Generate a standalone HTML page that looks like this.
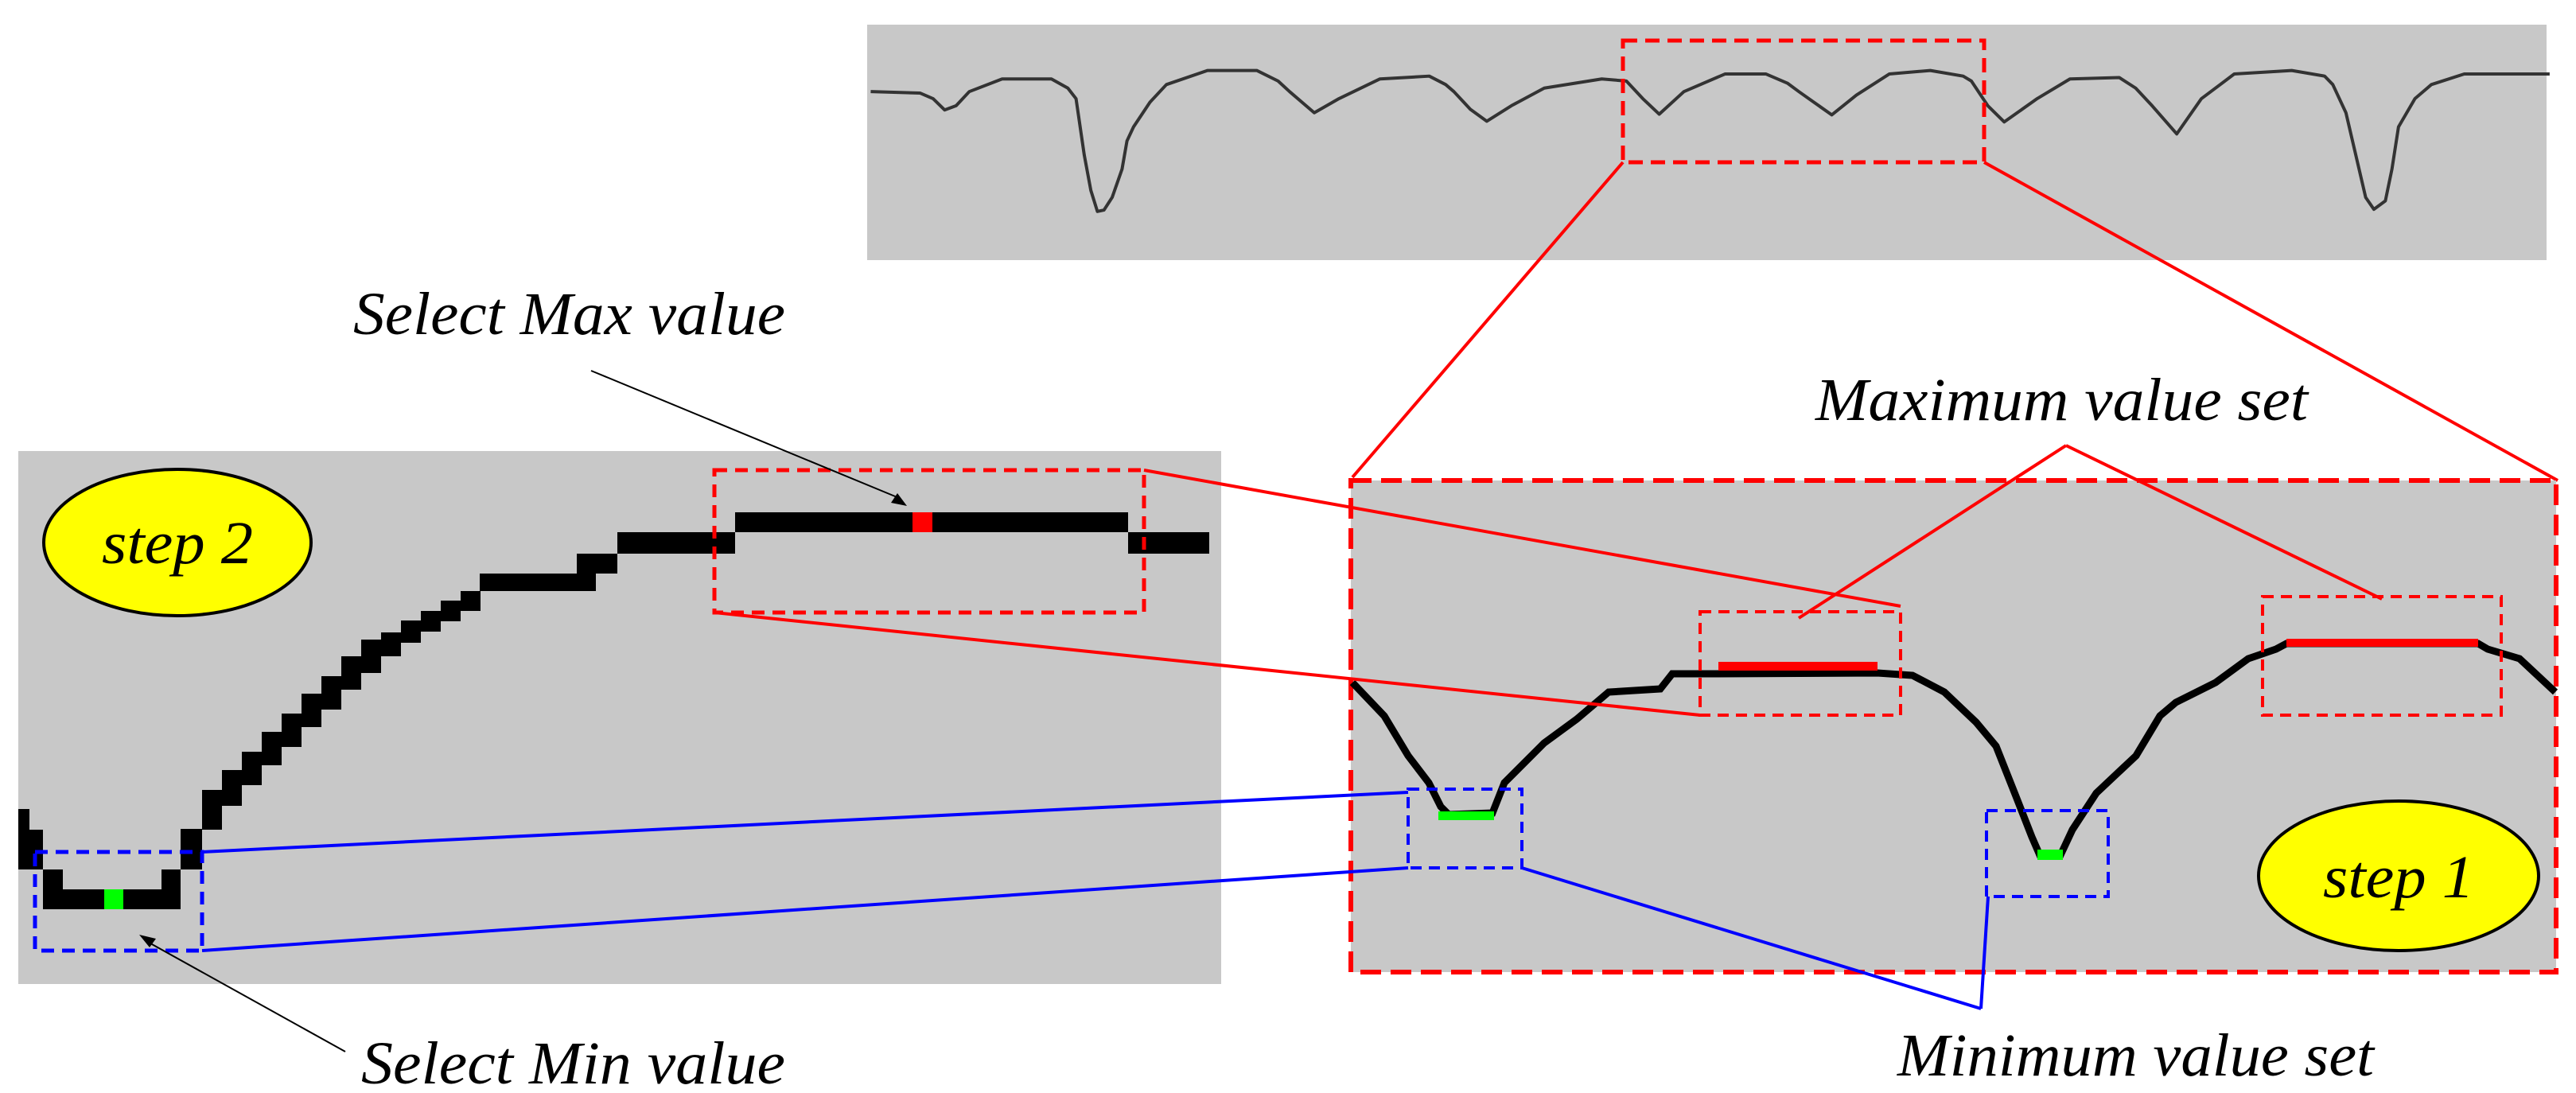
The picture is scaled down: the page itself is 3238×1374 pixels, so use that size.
<!DOCTYPE html>
<html><head><meta charset="utf-8"><style>
html,body{margin:0;padding:0;background:#fff;}
svg{display:block;}
text{font-family:"Liberation Serif",serif;font-style:italic;}
</style></head><body>
<svg width="3238" height="1374" viewBox="0 0 3238 1374" xmlns="http://www.w3.org/2000/svg">
<!-- top panel -->
<rect x="1090" y="31" width="2111" height="296" fill="#c8c8c8"/>
<g transform="scale(2.065,0.886)">
<polyline fill="none" stroke="#333" stroke-width="4" vector-effect="non-scaling-stroke" stroke-linejoin="round" points="530,130 560,132 568,140 575,156 582,150 590,130 610,112 640,112 650,125 655,140 660,220 664,270 668,300 672,298 677,280 683,240 686,200 690,180 700,145 710,120 735,100 765,100 778,115 785,130 800,160 815,140 840,112 870,108 880,120 885,130 895,155 905,172 920,150 940,125 975,112 990,115 1000,140 1010,162 1025,130 1050,105 1075,105 1088,118 1095,130 1115,163 1130,135 1150,105 1175,100 1195,108 1200,115 1210,150 1220,173 1240,140 1260,112 1290,110 1300,125 1310,150 1325,190 1340,140 1360,105 1395,100 1415,108 1420,120 1428,160 1432,200 1440,280 1445,297 1452,285 1456,240 1460,180 1470,140 1480,120 1500,105 1552,105"/>
</g>
<rect x="2040" y="51" width="454" height="153" fill="none" stroke="#f00" stroke-width="5" stroke-dasharray="18,10"/>
<line x1="2040" y1="204" x2="1700" y2="600" stroke="#f00" stroke-width="4"/>
<line x1="2494" y1="204" x2="3215" y2="604" stroke="#f00" stroke-width="4"/>

<!-- left panel -->
<rect x="23" y="567" width="1512" height="670" fill="#c8c8c8"/>
<ellipse cx="223" cy="682" rx="168" ry="92" fill="#ff0" stroke="#000" stroke-width="4"/>
<text x="223" y="708" font-size="76" text-anchor="middle" textLength="190" lengthAdjust="spacingAndGlyphs">step 2</text>
<g fill="#000">
<rect x="23" y="1017" width="14" height="76"/>
<rect x="23" y="1043" width="31" height="50"/>
<rect x="54" y="1093" width="25" height="50"/>
<rect x="54" y="1118" width="173" height="25"/>
<rect x="203" y="1093" width="24" height="50"/>
<rect x="227" y="1042" width="27" height="51"/>
<rect x="254" y="993" width="25" height="50"/>
<rect x="279" y="968" width="25" height="45"/>
<rect x="304" y="945" width="25" height="42"/>
<rect x="329" y="920" width="25" height="42"/>
<rect x="354" y="897" width="25" height="42"/>
<rect x="379" y="872" width="25" height="42"/>
<rect x="404" y="850" width="25" height="42"/>
<rect x="429" y="825" width="25" height="42"/>
<rect x="454" y="804" width="25" height="42"/>
<rect x="479" y="795" width="25" height="30"/>
<rect x="504" y="780" width="25" height="28"/>
<rect x="529" y="768" width="25" height="26"/>
<rect x="554" y="755" width="25" height="26"/>
<rect x="579" y="743" width="25" height="25"/>
<rect x="603" y="721" width="146" height="22"/>
<rect x="725" y="696" width="51" height="25"/>
<rect x="776" y="669" width="148" height="27"/>
<rect x="924" y="644" width="494" height="25"/>
<rect x="1418" y="669" width="102" height="27"/>
</g>
<rect x="131" y="1118" width="24" height="25" fill="#0f0"/>
<rect x="1147" y="644" width="25" height="25" fill="#f00"/>
<rect x="898" y="591" width="540" height="179" fill="none" stroke="#f00" stroke-width="5" stroke-dasharray="16,10"/>
<rect x="44" y="1071" width="210" height="124" fill="none" stroke="#00f" stroke-width="5" stroke-dasharray="16,10"/>

<!-- right panel -->
<rect x="1698" y="604" width="1515" height="618" fill="#c8c8c8" stroke="#f00" stroke-width="6" stroke-dasharray="26,12"/>
<polyline fill="none" stroke="#000" stroke-width="9" points="1700,858 1740,900 1770,950 1796,984 1811,1014 1821,1024 1876,1022 1891,984 1941,934 1982,904 2022,870 2087,866 2102,847 2160,847 2360,846 2404,849 2444,870 2484,908 2509,938 2534,1001 2554,1052 2564,1075 2590,1075 2605,1043 2635,997 2685,950 2715,900 2735,883 2785,858 2826,828 2861,816 2874,809 3115,809 3127,816 3167,828 3212,870"/>
<rect x="2160" y="832" width="200" height="11" fill="#f00"/>
<rect x="2874" y="803" width="241" height="10" fill="#f00"/>
<rect x="1808" y="1020" width="70" height="11" fill="#0f0"/>
<rect x="2561" y="1068" width="32" height="13" fill="#0f0"/>
<rect x="2137" y="769" width="252" height="130" fill="none" stroke="#f00" stroke-width="4" stroke-dasharray="14,9"/>
<rect x="2844" y="750" width="300" height="149" fill="none" stroke="#f00" stroke-width="4" stroke-dasharray="14,9"/>
<rect x="1770" y="992" width="143" height="99" fill="none" stroke="#00f" stroke-width="4" stroke-dasharray="14,9"/>
<rect x="2497" y="1019" width="153" height="108" fill="none" stroke="#00f" stroke-width="4" stroke-dasharray="14,9"/>
<ellipse cx="3015" cy="1101" rx="176" ry="94" fill="#ff0" stroke="#000" stroke-width="4"/>
<text x="3015" y="1128" font-size="76" text-anchor="middle" textLength="190" lengthAdjust="spacingAndGlyphs">step 1</text>

<!-- connectors -->
<line x1="1438" y1="591" x2="2389" y2="762" stroke="#f00" stroke-width="4"/>
<line x1="898" y1="770" x2="2137" y2="899" stroke="#f00" stroke-width="4"/>
<line x1="254" y1="1071" x2="1770" y2="996" stroke="#00f" stroke-width="4"/>
<line x1="254" y1="1195" x2="1770" y2="1091" stroke="#00f" stroke-width="4"/>
<line x1="1913" y1="1091" x2="2490" y2="1268" stroke="#00f" stroke-width="4"/>
<line x1="2499" y1="1127" x2="2490" y2="1268" stroke="#00f" stroke-width="4"/>
<line x1="2597" y1="560" x2="2261" y2="777" stroke="#f00" stroke-width="4"/>
<line x1="2597" y1="560" x2="2994" y2="753" stroke="#f00" stroke-width="4"/>
<!-- arrows -->
<line x1="743" y1="466" x2="1130" y2="626" stroke="#000" stroke-width="2"/>
<polygon points="1140,636 1120,632 1128,620" fill="#000"/>
<line x1="434" y1="1322" x2="182" y2="1182" stroke="#000" stroke-width="2"/>
<polygon points="175,1175 196,1180 188,1191" fill="#000"/>

<!-- labels -->
<text x="444" y="420" font-size="76" textLength="543" lengthAdjust="spacingAndGlyphs">Select Max value</text>
<text x="2282" y="528" font-size="76" textLength="619" lengthAdjust="spacingAndGlyphs">Maximum value set</text>
<text x="454" y="1362" font-size="76" textLength="533" lengthAdjust="spacingAndGlyphs">Select Min value</text>
<text x="2385" y="1352" font-size="76" textLength="599" lengthAdjust="spacingAndGlyphs">Minimum value set</text>
</svg>
</body></html>
